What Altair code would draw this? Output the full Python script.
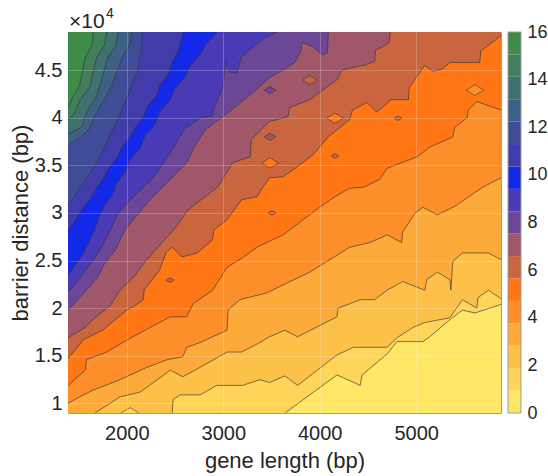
import altair as alt
import pandas as pd

XMIN, XMAX = 1390, 5880
YMIN, YMAX = 9000, 49000

x_ticks = [2000, 3000, 4000, 5000]
y_ticks = [10000, 15000, 20000, 25000, 30000, 35000, 40000, 45000]
cbar_ticks = [0, 2, 4, 6, 8, 10, 12, 14, 16]

level_colors = ["#FEE766", "#FED558", "#FDC14A", "#FCAA3A", "#FC8F2A", "#FF7715",
                "#C9653F", "#A1576A", "#6C4797", "#4A3AB5", "#1429E8", "#413BAB",
                "#3F4D98", "#3D6184", "#3F7170", "#407F5A", "#3F8C48"]
level_edges = [0, 0.941, 1.882, 2.824, 3.765, 4.706, 5.647, 6.588, 7.529, 8.471,
               9.412, 10.353, 11.294, 12.235, 13.176, 14.118, 15.059, 16]

# contour boundaries (gene length bp, barrier distance bp), level k separates band k-1 / band k
c1 = [(3640, 9000), (4180, 13000), (4420, 11900), (4440, 13000), (4700, 15200), (4800, 16500),
      (5070, 16500), (5140, 17000), (5350, 18800), (5480, 19800), (5610, 19500), (5880, 20400)]
c2 = [(2470, 9000), (2480, 10400), (2550, 10900), (2760, 10900), (2930, 11900), (3200, 11900),
      (3380, 12500), (3480, 12200), (3640, 12900), (3770, 11900), (4180, 15100), (4350, 15900),
      (4700, 15900), (4800, 16900), (4970, 18000), (5090, 18500), (5350, 19000), (5480, 20900),
      (5630, 20000), (5640, 21100), (5750, 21900), (5880, 21000)]
c3 = [(1670, 9000), (1930, 10700), (2140, 11200), (2450, 13500), (2580, 12800), (2760, 13800),
      (3040, 15400), (3190, 15400), (3380, 16400), (3480, 17000), (3640, 17700), (3770, 17000),
      (4180, 19100), (4190, 20000), (4420, 20900), (4570, 20900), (4700, 21900), (4860, 22800),
      (5090, 21900), (5110, 23000), (5220, 23800), (5350, 23000), (5360, 21900), (5380, 24900),
      (5480, 25800), (5750, 25800), (5880, 25100)]
c4 = [(1390, 10000), (1510, 10700), (1650, 11400), (1930, 12500), (2210, 13800), (2420, 14600),
      (2580, 14900), (2620, 15900), (2760, 16400), (3040, 17700), (3050, 19800), (3170, 20900),
      (3450, 21600), (3590, 22300), (3900, 23800), (4310, 26400), (4520, 26900), (4700, 27700),
      (4850, 26900), (4860, 28000), (4990, 30000), (5070, 30600), (5220, 29800), (5420, 30800),
      (5530, 31600), (5690, 32700), (5880, 33700)]
c5 = [(1390, 11900), (1570, 13500), (1580, 14600), (1790, 15400), (2060, 17000), (2450, 19100),
      (2620, 19100), (2690, 20500), (2890, 21900), (3040, 24300), (3200, 25300), (3350, 26400),
      (3450, 26900), (3620, 27700), (4000, 30600), (4140, 31600), (4310, 32600), (4450, 32700),
      (4620, 33500), (4700, 34700), (5010, 35900), (5140, 36900), (5380, 38000), (5400, 39000),
      (5530, 40000), (5540, 40800), (5630, 41700), (5880, 40800)]
c6 = [(1390, 14700), (1550, 16700), (1750, 17700), (2000, 19800), (2060, 20100), (2170, 20900),
      (2180, 21900), (2240, 22700), (2340, 24000), (2410, 25900), (2470, 26400), (2570, 25400),
      (2730, 25800), (2890, 27200), (2900, 28200), (3040, 29300), (3190, 31400), (3350, 31700),
      (3410, 32700), (3480, 33700), (3620, 33800), (3760, 34800), (3930, 36100), (4090, 38000),
      (4310, 39800), (4340, 40800), (4490, 41600), (4590, 40600), (4710, 41600), (4730, 41900),
      (4920, 41900), (4930, 43200), (5090, 45500), (5170, 44900), (5270, 45100), (5350, 45800),
      (5660, 45800), (5670, 47000), (5880, 48600)]
c7 = [(1390, 16900), (1570, 18000), (1670, 19000), (1830, 20300), (1930, 21900), (2090, 23500),
      (2190, 24900), (2340, 26600), (2500, 28400), (2630, 30300), (2940, 32700), (3100, 35300),
      (3280, 35900), (3290, 37700), (3480, 39600), (3670, 40100), (3690, 41100), (3900, 41900),
      (4180, 44000), (4230, 45000), (4310, 45200), (4450, 45500), (4570, 45900), (4580, 47100),
      (4680, 47600), (4720, 47900), (4730, 49000)]
c8 = [(1390, 19800), (1490, 20900), (1600, 22100), (1700, 23300), (1770, 24700), (1880, 26100),
      (1980, 28200), (2110, 29800), (2240, 31400), (2450, 33500), (2630, 35400), (2680, 36600),
      (2810, 38700), (3020, 40300), (3280, 42400), (3480, 44200), (3620, 45000), (3740, 45800),
      (3800, 46900), (3820, 47900), (3920, 47500), (4030, 46600), (4080, 46800), (4090, 49000)]
c9 = [(1390, 21700), (1490, 22800), (1570, 24000), (1670, 25300), (1750, 26600), (1830, 28200),
      (1900, 29800), (1980, 30800), (2090, 31900), (2190, 32900), (2260, 33500), (2400, 35600),
      (2500, 37100), (2600, 38900), (2660, 39200), (2760, 40000), (2890, 40200), (2900, 41000),
      (2990, 43000), (3030, 45900), (3060, 44800), (3140, 44700), (3190, 46400), (3330, 47600),
      (3430, 48400), (3560, 49000)]
c10 = [(1390, 23500), (1460, 24500), (1540, 25600), (1620, 27200), (1670, 28400), (1720, 29800),
       (1770, 30800), (1850, 31900), (1900, 33200), (1980, 34300), (2030, 35600), (2140, 36800),
       (2190, 38200), (2290, 39200), (2340, 40600), (2450, 41900), (2500, 43100), (2600, 44200),
       (2660, 45500), (2760, 46600), (2810, 47600), (2880, 48400), (2940, 49000)]
c11 = [(1390, 28200), (1470, 29300), (1540, 30500), (1620, 31400), (1670, 32400), (1750, 33500),
       (1810, 34700), (1900, 35800), (1950, 36900), (2030, 37900), (2090, 39000), (2170, 40100),
       (2220, 41300), (2310, 42300), (2340, 43400), (2430, 44500), (2470, 45900), (2530, 46900),
       (2560, 48000), (2590, 49000)]
c12 = [(1390, 30800), (1460, 31800), (1540, 33000), (1640, 34500), (1720, 35800), (1780, 37100),
       (1850, 38700), (1930, 40300), (1990, 41900), (2050, 43400), (2110, 45000), (2140, 46600),
       (2150, 47600), (2160, 49000)]
c13 = [(1390, 37100), (1510, 37900), (1600, 38700), (1660, 40000), (1720, 41200), (1790, 42300),
       (1850, 43500), (1900, 45000), (1950, 46300), (2030, 47600), (2050, 49000)]
c14 = [(1390, 38300), (1470, 38700), (1540, 39100), (1560, 40000), (1620, 41200), (1690, 42300),
       (1720, 43300), (1760, 44800), (1800, 46300), (1890, 47600), (1910, 49000)]
c15 = [(1390, 39700), (1460, 40500), (1510, 41800), (1620, 43300), (1650, 44800), (1690, 46400),
       (1770, 47600), (1790, 49000)]
c16 = [(1390, 41000), (1440, 42200), (1510, 43400), (1540, 44800), (1570, 46400), (1640, 47600),
       (1650, 49000)]
contours = [c1, c2, c3, c4, c5, c6, c7, c8, c9, c10, c11, c12, c13, c14, c15, c16]
bottom_start = [1, 2, 3]

# small closed contour islands
island_x = [2033, 3485, 3485, 3485, 2448, 3506, 3900, 4159, 4812, 4159, 5611]
island_y = [9000, 42900, 38000, 35250, 22950, 30000, 43950, 39950, 39950, 36000, 42900]
island_level = [1, 8, 7, 5, 6, 6, 6, 5, 6, 6, 4]
island_width = [18, 12, 12, 17, 8, 8, 15, 17, 8, 8, 18]

exponent_base = "×10"
exponent_power = "4"

FONT = "Liberation Sans"
TXT = "#262626"

xs = alt.Scale(domain=[XMIN, XMAX], nice=False, zero=False)
ys = alt.Scale(domain=[YMIN, YMAX], nice=False, zero=False)

x_axis = alt.Axis(values=x_ticks, format="d", title="gene length (bp)", grid=True,
                  gridColor="white", gridOpacity=0.22, ticks=False, domain=False,
                  labelPadding=10, labelFontSize=20, titleFontSize=22, titleY=54,
                  titleBaseline="alphabetic", zindex=1)
y_axis = alt.Axis(values=y_ticks, title="barrier distance (bp)", labelExpr="datum.value / 10000",
                  grid=True, gridColor="white", gridOpacity=0.22, ticks=False, domain=False,
                  labelPadding=6, labelFontSize=20, titleFontSize=22, titleX=-41,
                  titleBaseline="alphabetic", zindex=1)

X = alt.X("gene:Q", scale=xs, axis=x_axis)
Y = alt.Y("barrier:Q", scale=ys, axis=y_axis)

layers = []
for k, pts in enumerate(contours, start=1):
    p = ([(XMIN, YMIN)] + pts) if k in bottom_start else pts
    df = pd.DataFrame(p, columns=["gene", "barrier"])
    layers.append(
        alt.Chart(df).mark_area(color=level_colors[k], clip=True).encode(
            x=X, y=Y, y2=alt.datum(YMAX)
        )
    )

isl = pd.DataFrame({
    "gene": island_x, "barrier": island_y,
    "fill": [level_colors[l] for l in island_level],
    "s": [w * w for w in island_width],
})
islands = alt.Chart(isl).mark_point(
    shape="M -1 0 L 0 -0.6 L 1 0 L 0 0.6 Z", filled=True, opacity=1,
    stroke="#333333", strokeWidth=0.7, strokeOpacity=0.8, clip=True
).encode(x=X, y=Y, color=alt.Color("fill:N", scale=None), size=alt.Size("s:Q", scale=None))

rows = []
for k, pts in enumerate(contours, start=1):
    for i, (g, b) in enumerate(pts):
        rows.append({"k": k, "i": i, "gene": g, "barrier": b})
lines = alt.Chart(pd.DataFrame(rows)).mark_line(
    color="#333333", strokeWidth=0.8, opacity=0.8, clip=True
).encode(x=X, y=Y, detail="k:N", order="i:Q")

anchor_df = pd.DataFrame({"gene": [XMIN], "barrier": [YMAX],
                          "base": [exponent_base], "power": [exponent_power]})
expo_base = alt.Chart(anchor_df).mark_text(
    align="left", baseline="alphabetic", dx=1, dy=-4, fontSize=21, font=FONT, color=TXT
).encode(x=X, y=Y, text="base:N")
expo_power = alt.Chart(anchor_df).mark_text(
    align="left", baseline="alphabetic", dx=38, dy=-14, fontSize=14, font=FONT, color=TXT
).encode(x=X, y=Y, text="power:N")

main = alt.layer(*layers, islands, lines, expo_base, expo_power)

cb = pd.DataFrame({"lo": level_edges[:-1], "hi": level_edges[1:], "fill": level_colors,
                   "a": [0] * 17, "b": [1] * 17})
cbx = alt.Scale(domain=[0, 1], range=[440, 453])
cby = alt.Scale(domain=[0, 16], nice=False, zero=False)
cb_axis = alt.Axis(orient="right", offset=20, values=cbar_ticks, title=None, ticks=False,
                   domain=False, grid=False, labelPadding=6, labelFontSize=18)
bands = alt.Chart(cb).mark_rect().encode(
    x=alt.X("a:Q", scale=cbx, axis=None), x2="b",
    y=alt.Y("lo:Q", scale=cby, axis=cb_axis), y2="hi",
    color=alt.Color("fill:N", scale=None),
)
border = alt.Chart(pd.DataFrame({"a": [0], "b": [1], "lo": [0], "hi": [16]})).mark_rect(
    fillOpacity=0, stroke="#9c9c9c", strokeWidth=1
).encode(
    x=alt.X("a:Q", scale=cbx, axis=None), x2="b",
    y=alt.Y("lo:Q", scale=cby, axis=cb_axis), y2="hi",
)
colorbar = alt.layer(bands, border)

chart = alt.layer(main, colorbar).resolve_scale(
    x="independent", y="independent"
).properties(
    width=433, height=381,
    autosize=alt.AutoSizeParams(type="none"),
    padding={"left": 68, "top": 32, "right": 47, "bottom": 63},
).configure_view(
    fill=level_colors[0], stroke="#9c9c9c", strokeWidth=1
).configure_axis(
    labelFont=FONT, titleFont=FONT, labelColor=TXT, titleColor=TXT, titleFontWeight="normal"
)

chart.save("out.html", embed_options={"renderer": "svg", "actions": False})
